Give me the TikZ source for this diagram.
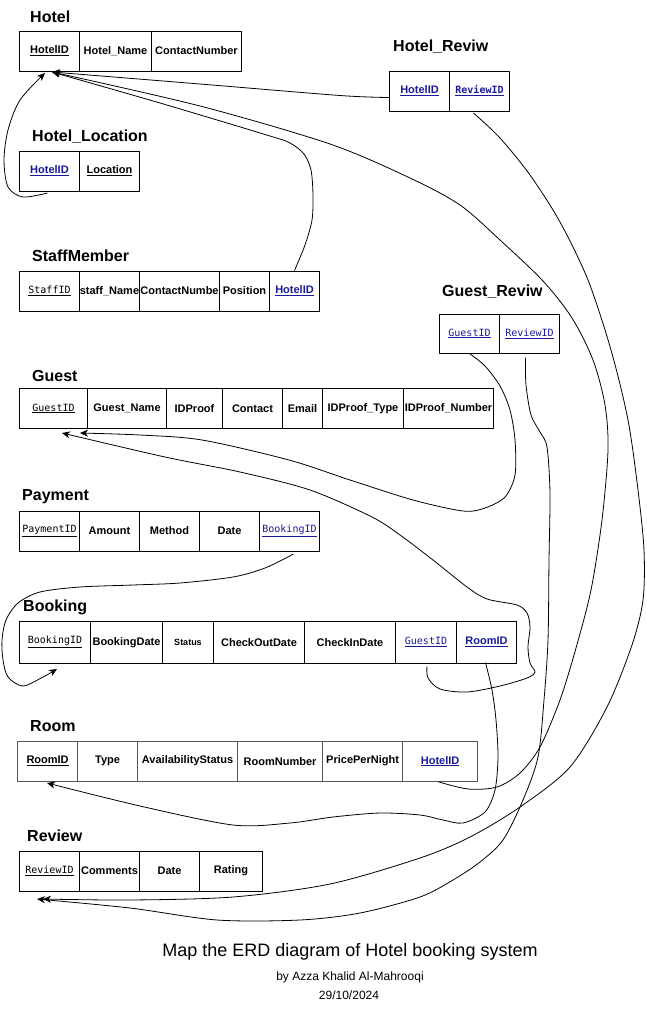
\documentclass[tikz,border=0pt]{standalone}
\usepackage{fontspec}
\setmainfont{Liberation Sans}
\newfontfamily\erdmonofam{DejaVu Sans Mono}
\usetikzlibrary{arrows.meta}
\definecolor{fkblue}{HTML}{1A1A99}
\definecolor{roomgray}{RGB}{85,85,85}
\newcommand\erdcellfont{\fontsize{11}{13}\selectfont\bfseries}
\newcommand\erdmono{\erdmonofam\fontsize{10}{12}\selectfont\mdseries}
\newcommand\erdpk[1]{\underline{#1}}
\newcommand\erdfk[1]{\textcolor{fkblue}{\underline{#1}}}
\begin{document}
\begin{tikzpicture}[x=1pt,y=-1pt,line join=round,
  cell/.style={draw=black,line width=1pt,anchor=north west,inner sep=0pt,minimum height=40pt,font=\erdcellfont,text=black},
  roomcell/.style={cell,draw=roomgray,line width=1.2pt},
  tlabel/.style={anchor=base west,inner sep=0pt,font=\fontsize{16}{19}\selectfont\bfseries},
  link/.style={line width=0.8pt,-{Stealth[length=8pt,width=7pt,inset=2.5pt]}},
  caption/.style={anchor=base,inner sep=0pt}]
\useasboundingbox (0,0) rectangle (646,1010);
\fill[white] (0,0) rectangle (646,1010);

% ---------- Hotel
\node[tlabel] (lbl-hotel) at (30,22) {Hotel};
\node[cell,minimum width=60pt] (h-id) at (19,30.5) {\erdpk{HotelID}};
\node[cell,minimum width=72pt] (h-name) at (79,30.5) {Hotel\_Name};
\node[cell,minimum width=90pt] (h-contact) at (151,30.5) {ContactNumber};

% ---------- Hotel_Location
\node[tlabel] (lbl-hloc) at (32,141.5) {Hotel\_Location};
\node[cell,minimum width=60pt] (hl-id) at (19,150.5) {\erdfk{HotelID}};
\node[cell,minimum width=60pt] (hl-loc) at (79,150.5) {\erdpk{Location}};

% ---------- Hotel_Reviw
\node[tlabel] (lbl-hrev) at (393,51.7) {Hotel\_Reviw};
\node[cell,minimum width=60pt] (hr-hid) at (389,70.5) {\erdfk{HotelID}};
\node[cell,minimum width=60pt] (hr-rid) at (449,70.5) {\erdmono\bfseries\erdfk{ReviewID}};

% ---------- StaffMember
\node[tlabel] (lbl-staff) at (32,261.7) {StaffMember};
\node[cell,minimum width=60pt] (sm-sid) at (19,270.5) {\erdmono\erdpk{StaffID}};
\node[cell,minimum width=60pt] (sm-name) at (79,270.5) {staff\_Name};
\node[cell,minimum width=80pt] (sm-contact) at (139,270.5) {ContactNumbe};
\node[cell,minimum width=50pt] (sm-pos) at (219,270.5) {Position};
\node[cell,minimum width=50pt] (sm-hid) at (269,270.5) {\erdfk{HotelID}};

% ---------- Guest_Reviw
\node[tlabel] (lbl-grev) at (442,296) {Guest\_Reviw};
\node[cell,minimum width=60pt,minimum height=39pt] (gr-gid) at (439,313.5) {\erdmono\erdfk{GuestID}};
\node[cell,minimum width=60pt,minimum height=39pt] (gr-rid) at (499,313.5) {\erdmono\erdfk{ReviewID}};

% ---------- Guest
\node[tlabel] (lbl-guest) at (32,381) {Guest};
\node[cell,minimum width=68pt] (g-id) at (19,388) {\erdmono\erdpk{GuestID}};
\node[cell,minimum width=79pt] (g-name) at (87,388) {Guest\_Name};
\node[cell,minimum width=56pt] (g-proof) at (166,388) {IDProof};
\node[cell,minimum width=60pt] (g-contact) at (222,388) {Contact};
\node[cell,minimum width=40pt] (g-email) at (282,388) {Email};
\node[cell,minimum width=81pt] (g-ptype) at (322,388) {IDProof\_Type};
\node[cell,minimum width=90pt] (g-pnum) at (403,388) {IDProof\_Number};

% ---------- Payment
\node[tlabel] (lbl-pay) at (22,500.7) {Payment};
\node[cell,minimum width=60pt] (py-id) at (19,510.5) {\erdmono\erdpk{PaymentID}};
\node[cell,minimum width=60pt] (py-amt) at (79,510.5) {Amount};
\node[cell,minimum width=60pt] (py-method) at (139,510.5) {Method};
\node[cell,minimum width=60pt] (py-date) at (199,510.5) {Date};
\node[cell,minimum width=60pt] (py-bid) at (259,510.5) {\erdmono\erdfk{BookingID}};

% ---------- Booking
\node[tlabel] (lbl-book) at (23,611.7) {Booking};
\node[cell,minimum width=71pt,minimum height=41.5pt] (bk-id) at (19,621) {\erdmono\erdpk{BookingID}};
\node[cell,minimum width=72pt,minimum height=41.5pt] (bk-date) at (90,621) {BookingDate};
\node[cell,minimum width=51pt,minimum height=41.5pt,font=\fontsize{9}{11}\selectfont\bfseries] (bk-status) at (162,621) {Status};
\node[cell,minimum width=91pt,minimum height=41.5pt] (bk-out) at (213,621) {CheckOutDate};
\node[cell,minimum width=91pt,minimum height=41.5pt] (bk-in) at (304,621) {CheckInDate};
\node[cell,minimum width=61pt,minimum height=41.5pt] (bk-gid) at (395,621) {\erdmono\erdfk{GuestID}};
\node[cell,minimum width=60pt,minimum height=41.5pt] (bk-rid) at (456,621) {\erdfk{RoomID}};

% ---------- Room
\node[tlabel] (lbl-room) at (30,731.7) {Room};
\node[roomcell,minimum width=60pt] (rm-id) at (17,740.5) {\erdpk{RoomID}};
\node[roomcell,minimum width=60pt] (rm-type) at (77,740.5) {Type};
\node[roomcell,minimum width=100pt] (rm-avail) at (137,740.5) {AvailabilityStatus};
\node[roomcell,minimum width=85pt] (rm-num) at (237,740.5) {RoomNumber};
\node[roomcell,minimum width=80pt] (rm-price) at (322,740.5) {PricePerNight};
\node[roomcell,minimum width=75pt] (rm-hid) at (402,740.5) {\erdfk{HotelID}};

% ---------- Review
\node[tlabel] (lbl-review) at (27,841) {Review};
\node[cell,minimum width=60pt] (rv-id) at (19,850.5) {\erdmono\erdpk{ReviewID}};
\node[cell,minimum width=60pt] (rv-com) at (79,850.5) {Comments};
\node[cell,minimum width=60pt] (rv-date) at (139,850.5) {Date};
\node[cell,minimum width=63pt] (rv-rating) at (199,850.5) {Rating};

% ---------- caption
\node[caption,font=\fontsize{18}{21}\selectfont] (title) at (350,956) {Map the ERD diagram of Hotel booking system};
\node[caption,font=\fontsize{12}{14}\selectfont] (author) at (350,980) {by Azza Khalid Al-Mahrooqi};
\node[caption,font=\fontsize{12}{14}\selectfont] (date) at (349,999) {29/10/2024};

% ---------- connector ends
\coordinate (hotel-in-a) at (45,73);
\coordinate (hotel-in-b) at (52,72);
\coordinate (guest-in-a) at (62,433);
\coordinate (guest-in-b) at (80,433);
\coordinate (book-in) at (57,669);
\coordinate (room-in) at (47,783);
\coordinate (rev-in-a) at (43,899);
\coordinate (rev-in-b) at (37,899);

\coordinate (s-hl) at ([shift={(-2,1.5)}]hl-id.south);
\coordinate (s-hr) at ([shift={(0,6.5)}]hr-hid.west);
\coordinate (s-sm) at (sm-hid.north);
\coordinate (s-rm) at ([shift={(-2,0)}]rm-hid.south);
\coordinate (s-hrr) at ([shift={(-6,1.5)}]hr-rid.south);
\coordinate (s-grr) at ([shift={(-4,4)}]gr-rid.south);
\coordinate (s-grg) at (gr-gid.south);
\coordinate (s-bkg) at ([shift={(1,3)}]bk-gid.south);
\coordinate (s-py) at ([shift={(4,2.5)}]py-bid.south);
\coordinate (s-bkr) at ([shift={(-1,-1)}]bk-rid.south);

% Hotel_Location.HotelID -> Hotel.HotelID
\draw[link] plot[smooth] coordinates {(s-hl) (23,197) (8,187) (4,160) (8,130) (20,100) (hotel-in-a)};
% Hotel_Reviw.HotelID -> Hotel.HotelID
\draw[link] plot[smooth] coordinates {(s-hr) (340,95.5) (200,84) (hotel-in-b)};
% StaffMember.HotelID -> Hotel.HotelID
\draw[link] plot[smooth] coordinates {(s-sm) (305,245) (312,220) (313,195) (311,170) (304,154) (290,143) (270,136) (160,103) (hotel-in-b)};
% Room.HotelID -> Hotel.HotelID
\draw[link] plot[smooth] coordinates {(s-rm) (468,789) (497,787) (520,773) (540,747) (560,700) (576,648) (591,590) (602,520) (608,450) (605,405) (593,360) (572,318) (543,281) (500,240) (460,205) (410,178) (330,144) (200,106) (hotel-in-b)};
% Hotel_Reviw.ReviewID -> Review.ReviewID
\draw[link] plot[smooth] coordinates {(s-hrr) (500,138) (530,175) (560,222) (588,280) (611,350) (628,420) (638,490) (644,550) (643,600) (632,645) (607,707) (570,767) (520,807) (470,837) (420,858) (330,884) (233,897) (130,900) (rev-in-a)};
% Guest_Reviw.ReviewID -> Review.ReviewID
\draw[link] plot[smooth] coordinates {(s-grr) (526,385) (531,415) (540,432) (547,447) (550,493) (549,560) (548,640) (544,700) (538,757) (523,800) (503,840) (480,862) (453,880) (420,897) (360,913) (300,920) (217,920) (130,908) (rev-in-b)};
% Guest_Reviw.GuestID -> Guest.GuestID
\draw[link] plot[smooth] coordinates {(s-grg) (485,366) (500,386) (510,410) (515,440) (515,475) (505,497) (485,508) (463,511) (413,500) (350,480) (289,460) (202,440) (140,435) (guest-in-b)};
% Booking.GuestID -> Guest.GuestID
\draw[link] plot[smooth] coordinates {(s-bkg) (428,678) (440,689) (467,692) (500,686) (527,678) (535,672) (530,663) (528,647) (530,627) (527,613) (517,605) (487,599) (467,587) (433,560) (400,535) (372,517) (310,490) (240,472) (165,457) (guest-in-a)};
% Payment.BookingID -> Booking.BookingID
\draw[link] plot[smooth] coordinates {(s-py) (265,568) (233,577) (180,583) (133,585) (80,587) (40,592) (18,603) (6,620) (2,640) (3,660) (8,677) (23,686) (43,677) (book-in)};
% Booking.RoomID -> Room.RoomID
\draw[link] plot[smooth] coordinates {(s-bkr) (492,690) (496,720) (498,757) (495,790) (485,812) (463,823) (443,820) (420,815) (380,813) (333,817) (290,823) (233,825) (140,806) (room-in)};
\end{tikzpicture}
\end{document}
